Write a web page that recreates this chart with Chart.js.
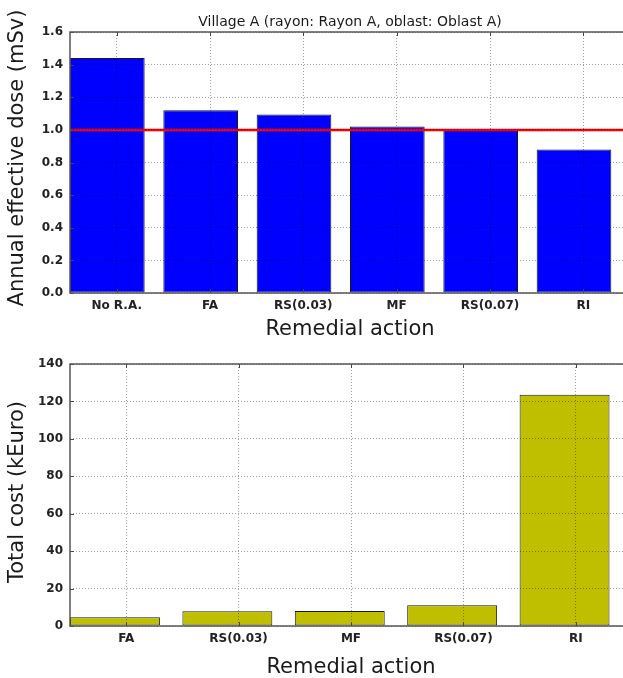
<!DOCTYPE html>
<html lang="en">
<head>
    <meta charset="UTF-8">
    <title>Remedial actions</title>
    <script src="https://cdn.jsdelivr.net/npm/chart.js"></script>
    <style>
        body { margin: 0; background: #fff; }
        .panel { position: relative; width: 623px; overflow: hidden; }
        .panel canvas { display: block; }
    </style>
</head>
<body>
    <div class="panel" style="height:340px"><canvas id="doseChart" width="640" height="340"></canvas></div>
    <div class="panel" style="height:338px"><canvas id="costChart" width="640" height="338"></canvas></div>
    <script>
        // Top panel: annual dose per remedial action
        var doseCategories = ['No R.A.', 'FA', 'RS(0.03)', 'MF', 'RS(0.07)', 'RI'];
        var doseValues = [1.44, 1.12, 1.095, 1.02, 1.0, 0.88];
        var doseLimit = 1.0;
        var doseTicks = [0, 0.2, 0.4, 0.6, 0.8, 1.0, 1.2, 1.4, 1.6];

        // Bottom panel: total cost per remedial action
        var costCategories = ['FA', 'RS(0.03)', 'MF', 'RS(0.07)', 'RI'];
        var costValues = [4.7, 7.9, 8.0, 11.1, 123.6];
        var costTicks = [0, 20, 40, 60, 80, 100, 120, 140];

        var FONT = 'DejaVu Sans';

        // frame, inward tick marks and the titles, drawn like the matplotlib original
        var framePlugin = {
            id: 'frame',
            afterDraw: function (chart, args, opts) {
                var ctx = chart.ctx, a = chart.chartArea;
                var xs = chart.scales.x, ys = chart.scales.y;
                ctx.save();
                ctx.strokeStyle = '#444';
                ctx.lineWidth = 1;
                xs.ticks.forEach(function (t) {
                    var px = Math.round(xs.getPixelForValue(t.value)) + 0.5;
                    ctx.beginPath();
                    ctx.moveTo(px, a.top); ctx.lineTo(px, a.top + 4);
                    ctx.moveTo(px, a.bottom); ctx.lineTo(px, a.bottom - 4);
                    ctx.stroke();
                });
                ys.ticks.forEach(function (t) {
                    var py = Math.round(ys.getPixelForValue(t.value)) + 0.5;
                    ctx.beginPath();
                    ctx.moveTo(a.left, py); ctx.lineTo(a.left + 4, py);
                    ctx.moveTo(a.right, py); ctx.lineTo(a.right - 4, py);
                    ctx.stroke();
                });
                ctx.strokeStyle = '#555';
                ctx.lineWidth = 1.5;
                ctx.strokeRect(a.left, a.top, a.right - a.left, a.bottom - a.top);

                ctx.fillStyle = '#1a1a1a';
                ctx.textAlign = 'center';
                ctx.textBaseline = 'middle';
                if (opts.title) {
                    ctx.font = '14px "' + FONT + '"';
                    ctx.fillText(opts.title, (a.left + a.right) / 2, opts.titleY);
                }
                ctx.font = '21px "' + FONT + '"';
                ctx.fillText(opts.xTitle, (a.left + a.right) / 2, opts.xTitleY);
                ctx.translate(opts.yTitleX, opts.yTitleY);
                ctx.rotate(-Math.PI / 2);
                ctx.fillText(opts.yTitle, 0, 0);
                ctx.restore();
            }
        };

        function barPoints(values) {
            // matplotlib bars: left edge at i, width 0.8
            return values.map(function (v, i) { return { x: i + 0.4, y: v }; });
        }

        function makeOptions(cats, yTicks, yFmt, padTop, padRight, xHeight, frameOpts) {
            return {
                responsive: false,
                animation: false,
                layout: { padding: { top: padTop, right: padRight, left: 0, bottom: 0 } },
                plugins: { legend: { display: false }, tooltip: { enabled: false }, frame: frameOpts },
                scales: {
                    x: {
                        type: 'linear',
                        min: 0,
                        max: cats.length,
                        offset: false,
                        afterBuildTicks: function (s) {
                            s.ticks = cats.map(function (c, i) { return { value: i + 0.5 }; });
                        },
                        afterFit: function (s) { s.height = xHeight; },
                        ticks: {
                            autoSkip: false,
                            maxRotation: 0,
                            padding: 6,
                            color: '#222',
                            font: { family: FONT, size: 12, weight: 'bold' },
                            callback: function (v) { return cats[Math.round(v - 0.5)]; }
                        },
                        grid: { z: 1, color: 'rgba(0,0,0,0.38)', lineWidth: 1, drawTicks: false, offset: false },
                        border: { display: false, dash: [1, 2] }
                    },
                    y: {
                        min: yTicks[0],
                        max: yTicks[yTicks.length - 1],
                        afterBuildTicks: function (s) {
                            s.ticks = yTicks.map(function (v) { return { value: v }; });
                        },
                        afterFit: function (s) { s.width = 70; },
                        ticks: {
                            padding: 7,
                            color: '#222',
                            font: { family: FONT, size: 12, weight: 'bold' },
                            callback: yFmt
                        },
                        grid: { z: 1, color: 'rgba(0,0,0,0.38)', lineWidth: 1, drawTicks: false },
                        border: { display: false, dash: [1, 2] }
                    }
                }
            };
        }

        new Chart(document.getElementById('doseChart').getContext('2d'), {
            type: 'bar',
            data: {
                datasets: [{
                    type: 'line',
                    data: [{ x: 0, y: doseLimit }, { x: doseCategories.length, y: doseLimit }],
                    borderColor: '#ff0000',
                    borderWidth: 2.5,
                    pointRadius: 0,
                    order: 0
                }, {
                    data: barPoints(doseValues),
                    backgroundColor: '#0000ff',
                    borderColor: '#1a1a1a',
                    borderWidth: 1,
                    borderSkipped: false,
                    barPercentage: 0.8,
                    categoryPercentage: 1,
                    order: 1
                }]
            },
            options: makeOptions(doseCategories, doseTicks,
                function (v) { return v.toFixed(1); }, 32, 10, 47,
                { title: 'Village A (rayon: Rayon A, oblast: Oblast A)', titleY: 22,
                  xTitle: 'Remedial action', xTitleY: 330,
                  yTitle: 'Annual effective dose (mSv)', yTitleX: 18, yTitleY: 158 }),
            plugins: [framePlugin]
        });

        new Chart(document.getElementById('costChart').getContext('2d'), {
            type: 'bar',
            data: {
                datasets: [{
                    data: barPoints(costValues),
                    backgroundColor: '#bfbf00',
                    borderColor: '#1a1a1a',
                    borderWidth: 1,
                    borderSkipped: false,
                    barPercentage: 0.8,
                    categoryPercentage: 1
                }]
            },
            options: makeOptions(costCategories, costTicks,
                function (v) { return String(v); }, 24, 8, 52,
                { xTitle: 'Remedial action', xTitleY: 328,
                  yTitle: 'Total cost (kEuro)', yTitleX: 18, yTitleY: 152 }),
            plugins: [framePlugin]
        });
    </script>
</body>
</html>
